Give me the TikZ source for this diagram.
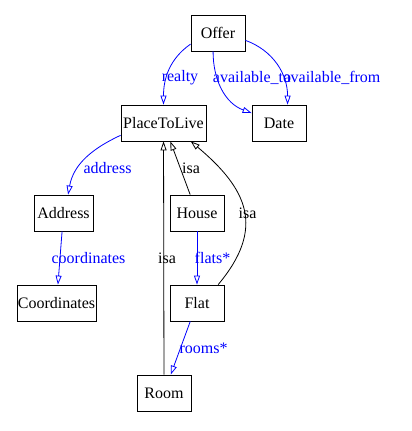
\documentclass[tikz,border=0pt]{standalone}
\usepackage{fontspec}
\setmainfont{Liberation Serif}
\usetikzlibrary{arrows.meta}
\tikzset{
  cls/.style = {draw, rectangle, inner sep = 0pt, minimum height = 36pt},
  rel/.style = {blue, -{Triangle[open, length = 9pt, width = 6pt]}},
  isa/.style = {black, -{Triangle[open, length = 9pt, width = 6pt]}},
  lbl/.style = {inner sep = 0pt}
}
\begin{document}
\begin{tikzpicture}
      [x = 1pt, y = 1pt, line width = .8pt, font = \fontsize{16}{18}\selectfont]
      \useasboundingbox (0,0) rectangle (412,-431);
      \foreach \name/\x/\y/\w in {Offer/218/33/54, PlaceToLive/163.5/123/85,
        Date/279/123/54, Address/63.5/213/59, House/197/213/54,
        Coordinates/56.5/303/79, Flat/197/303/54, Room/164/393/54}
        \node[cls, minimum width = \w pt] (\name) at (\x,-\y) {\name};
      \draw[rel] (Offer.202) to[out = 215, in = 90] (PlaceToLive.north)
        node[lbl] at (180,-78) {realty};
      \draw[rel] (Offer.255) to[out = -90, in = 160] (Date.160)
        node[lbl] at (252,-78) {available\_to};
      \draw[rel] (Offer.-15) to[out = -20, in = 90] (Date.65)
        node[lbl] at (332,-78) {available\_from};
      \draw[rel] (PlaceToLive.196) to[out = 205, in = 80] (Address.76)
        node[lbl] at (107.5,-168) {address};
      \draw[rel] (Address) -- (Coordinates) node[lbl] at (88.5,-258) {coordinates};
      \draw[rel] (House) -- (Flat) node[lbl] at (212.5,-258) {flats*};
      \draw[rel] (Flat) -- (Room) node[lbl] at (203.5,-348) {rooms*};
      \draw[isa] (House) -- (PlaceToLive) node[lbl] at (191,-168) {isa};
      \draw[isa] (Flat.41) to[out = 50, in = -40, looseness = 1.3] (PlaceToLive.-34)
        node[lbl] at (247.5,-213) {isa};
      \draw[isa] (Room) -- (PlaceToLive) node[lbl] at (167,-258) {isa};
\end{tikzpicture}
\end{document}
